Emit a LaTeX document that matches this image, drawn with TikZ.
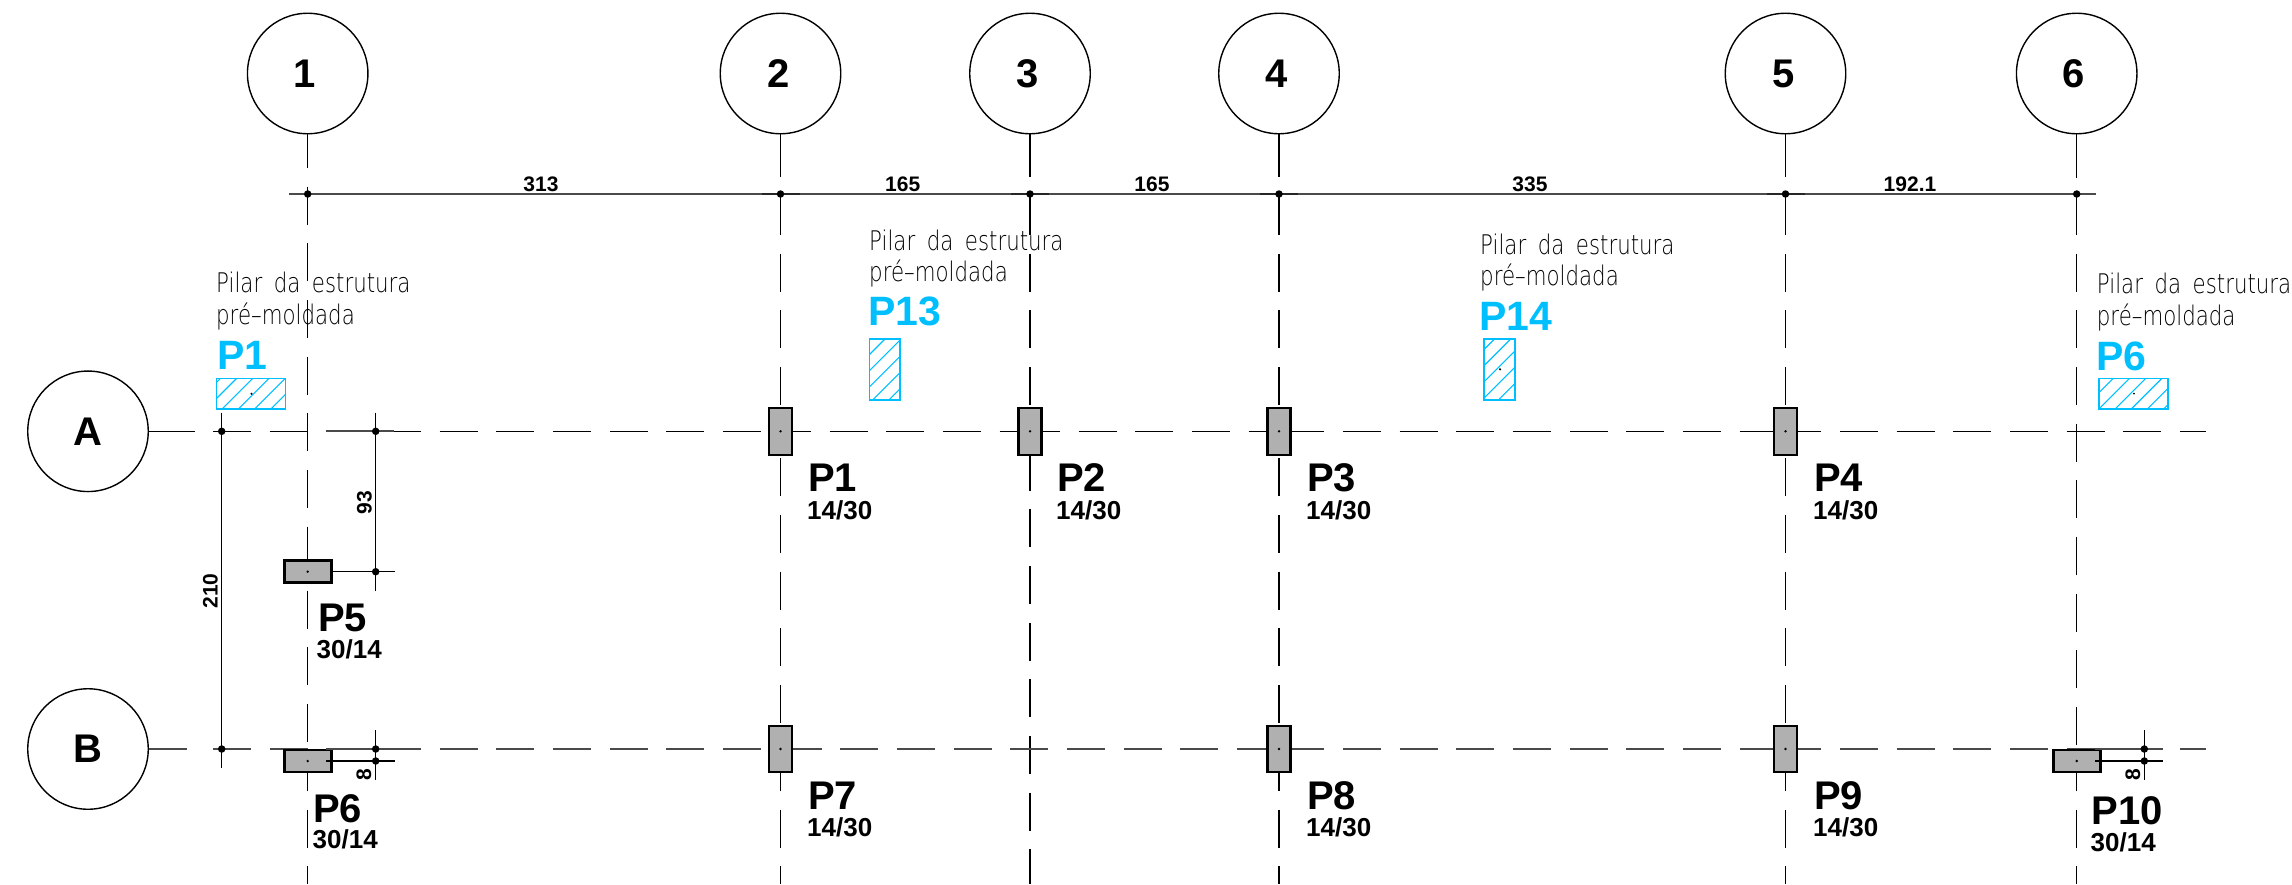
\documentclass[tikz,border=0pt]{standalone}
\usepackage{fontspec}
\setmainfont{Liberation Sans}
\newfontfamily\thinfont[FakeStretch=0.79,WordSpace=1.7]{DejaVu Sans ExtraLight}
\definecolor{cyanp}{HTML}{00BFFF}
\definecolor{gridgray}{HTML}{4A4A4A}
\definecolor{colgray}{HTML}{B0B0B0}
\tikzset{
  axisdash/.style={line width=1.5pt,black,dash pattern=on 38pt off 18.67pt},
  rowadash/.style={line width=1.5pt,black,dash pattern=on 38pt off 18.67pt},
  rowbdash/.style={line width=2pt,gridgray,dash pattern=on 38pt off 18.67pt},
  solidln/.style={line width=1.5pt,black},
  dimln/.style={line width=1.3pt,black},
  dimmain/.style={line width=2pt,gridgray},
  dimtick/.style={line width=2.4pt,black!85},
  gridcircle/.style={circle,draw=black,line width=1.4pt,minimum size=120.5pt,inner sep=0pt,fill=white,font=\fontsize{40}{40}\selectfont\bfseries},
  column/.style={draw=black,fill=colgray,line width=2.6pt},
  cdot/.style={circle,fill=black,inner sep=0pt,minimum size=2.6pt},
  jdot/.style={circle,fill=black,inner sep=0pt,minimum size=7.5pt},
  ptag/.style={anchor=base west,inner sep=0pt,font=\fontsize{40}{40}\selectfont\bfseries},
  ptagblue/.style={anchor=base west,inner sep=0pt,text=cyanp,font=\fontsize{41}{41}\selectfont\bfseries},
  psize/.style={anchor=base west,inner sep=0pt,font=\fontsize{26}{26}\selectfont\bfseries},
  dimtext/.style={anchor=base,inner sep=0pt,font=\fontsize{21}{21}\selectfont\bfseries},
  note/.style={anchor=base west,inner sep=0pt,text=black,font=\thinfont\fontsize{27}{27}\selectfont},
  hatchbox/.style={draw=cyanp,line width=1.6pt},
  hatchln/.style={draw=cyanp,line width=1.1pt},
}
\newcommand{\hatchrect}[5]{%
  \begin{scope}
    \clip (#1,#2) rectangle (#3,#4);
    \foreach \k in {0,...,8}{
      \pgfmathsetmacro{\s}{#1+#2+#5+16.2*\k}
      \draw[hatchln] ({\s-#4},#4) -- ({\s-#2},#2);
    }
  \end{scope}
  \draw[hatchbox] (#1,#2) rectangle (#3,#4);
}
\newcommand{\colwide}[3]{% name, x, y : 30/14
  \draw[column] (#2-23.5,#3-11) rectangle (#2+23.5,#3+11);
  \node[cdot] (#1) at (#2,#3) {};
}
\begin{document}
\begin{tikzpicture}[x=1pt,y=-1pt]
\useasboundingbox (0,0) rectangle (2292,884);

% grid bubbles
\foreach \n/\x/\tx in {1/307.7/305,2/780.5/778.5,3/1030/1027.5,4/1279/1276.5,5/1785.5/1783.5,6/2076.7/2074}{
  \node[gridcircle] (c\n) at (\x,73.5) {};
  \node[inner sep=0pt,font=\fontsize{40}{40}\selectfont\bfseries] (t\n) at (\tx,74) {\n};
}
\node[gridcircle] (rA) at (88,431.3) {\textbf{A}};
\node[gridcircle] (rB) at (88,749) {\textbf{B}};

% vertical axes
\draw[solidln] (c1.south) -- (307.7,168);
\draw[axisdash] (307.7,186.7) -- (307.7,575);
\draw[axisdash] (307.7,590.7) -- (307.7,750);
\draw[axisdash] (307.7,753) -- (307.7,884);
\foreach \n/\x in {2/780.5,4/1279,5/1785.5}{
  \draw[solidln] (c\n.south) -- (\x,177);
  \draw[axisdash] (\x,197) -- (\x,440);
  \draw[axisdash] (\x,458.3) -- (\x,750);
  \draw[axisdash] (\x,753) -- (\x,884);
}
\draw[solidln] (c3.south) -- (1030,177);
\draw[axisdash] (1030,197) -- (1030,440);
\draw[axisdash] (1030,452.6) -- (1030,884);
\draw[solidln] (c6.south) -- (2076.7,178);
\draw[axisdash] (2076.7,197) -- (2076.7,750);
\draw[axisdash] (2076.7,753) -- (2076.7,884);

% row A
\draw[solidln] (rA.east) -- (195,431.3);
\draw[rowadash] (213,431.3) -- (768,431.3);
\draw[rowadash] (772.9,431.3) -- (1030,431.3);
\draw[rowadash] (1022,431.3) -- (1279,431.3);
\draw[rowadash] (1286.3,431.3) -- (1778,431.3);
\draw[rowadash] (1783.3,431.3) -- (2206,431.3);
% row B
\draw[rowbdash] (rB.east) -- (195,749);
\draw[rowbdash] (213,749) -- (770,749);
\draw[rowbdash] (783.6,749) -- (1279,749);
\draw[rowbdash] (1286.3,749) -- (1778,749);
\draw[rowbdash] (1783.3,749) -- (2206,749);

% top dimension line
\coordinate (dl) at (289,194);
\coordinate (dr) at (2096,194);
\draw[dimmain] (dl) -- (dr);
\foreach \n/\x in {2/780.5,3/1030,4/1279,5/1785.5}{
  \draw[dimtick] (\x-19,194) -- (\x+19,194);
}
\foreach \n/\x in {1/307.7,2/780.5,3/1030,4/1279,5/1785.5,6/2076.7}{
  \node[jdot] (d\n) at (\x,194) {};
}
\node[dimtext] (v313) at (541,191) {313};
\node[dimtext] (v165a) at (902.7,191) {165};
\node[dimtext] (v165b) at (1152,191) {165};
\node[dimtext] (v335) at (1530,191) {335};
\node[dimtext] (v192) at (1910,191) {192.1};

% dimension 210
\coordinate (a1) at (221.7,412.7);
\coordinate (a2) at (221.7,768);
\draw[dimln] (a1) -- (a2);
\node[jdot] (ja1) at (221.7,431.3) {};
\node[jdot] (ja2) at (221.7,749) {};
\node[dimtext,rotate=90] (v210) at (217.5,591) {210};

% dimension 93
\coordinate (b1) at (375.7,412.7);
\coordinate (b2) at (375.7,590.7);
\draw[dimln] (b1) -- (b2);
\coordinate (b3) at (326,571.7);
\coordinate (b4) at (395,571.7);
\draw[dimln] (b3) -- (b4);
\draw[dimmain] (326,431.3) -- (394,431.3);
\node[jdot] (jb1) at (375.7,431.3) {};
\node[jdot] (jb2) at (375.7,571.7) {};
\node[dimtext,rotate=90] (v93) at (371.5,502.7) {93};

% columns
\foreach \n/\x in {1/780.5,2/1030,3/1279,4/1785.5}{
  \draw[column] (\x-11.5,407.8) rectangle (\x+11.5,454.8);
  \node[cdot] (pa\n) at (\x,431.3) {};
}
\foreach \n/\x in {7/780.5,8/1279,9/1785.5}{
  \draw[column] (\x-11.5,726) rectangle (\x+11.5,772);
  \node[cdot] (pb\n) at (\x,749) {};
}
\colwide{p5}{307.7}{571.7}
\colwide{p6}{307.7}{761}
\colwide{p10}{2076.7}{761}

% small dimension at P6
\draw[dimmain] (326,749) -- (394,749);
\draw[dimln] (375.7,730) -- (375.7,780);
\draw[dimln] (326,761) -- (395,761);
\node[jdot] (jc1) at (375.7,749) {};
\node[jdot] (jc2) at (375.7,761) {};
\node[dimtext,rotate=90] (v8a) at (371,775) {8};
% small dimension at P10
\draw[dimmain] (2095,749) -- (2163,749);
\draw[dimln] (2144.3,730) -- (2144.3,780);
\draw[dimln] (2095,761) -- (2163,761);
\node[jdot] (je1) at (2144.3,749) {};
\node[jdot] (je2) at (2144.3,761) {};
\node[dimtext,rotate=90] (v8b) at (2140,775) {8};

% black labels
\foreach \n/\t/\x/\y/\sz/\xs/\ys in {
  l1/P1/808/491.5/{14/30}/807/519,
  l2/P2/1057/491.5/{14/30}/1056/519,
  l3/P3/1307/491.5/{14/30}/1306/519,
  l4/P4/1814/491.5/{14/30}/1813/519,
  l5/P5/318/631/{30/14}/316.5/658,
  l6/P6/313/822/{30/14}/312.5/848,
  l7/P7/808/809/{14/30}/807/836.7,
  l8/P8/1307/809/{14/30}/1306/836.7,
  l9/P9/1814/809/{14/30}/1813/836.7,
  l10/P10/2091.5/824.5/{30/14}/2090.5/851.7}{
  \node[ptag] (\n) at (\x,\y) {\t};
  \node[psize] (s\n) at (\xs,\ys) {\sz};
}

% precast columns
\foreach \n/\x/\ya/\yb/\bx/\by/\t in {
  a/216/292.7/324/217/369/P1,
  b/869/250/281.7/868/325.7/P13,
  c/1480/254.3/285.7/1479/330.7/P14,
  d/2096.7/293.3/325/2096/370/P6}{
  \node[note] (na\n) at (\x,\ya) {Pilar da estrutura};
  \node[note] (nb\n) at (\x,\yb) {pré–moldada};
  \node[ptagblue] (nc\n) at (\bx,\by) {\t};
}
\hatchrect{216.3}{378.3}{285.3}{409}{4.2}
\hatchrect{869.3}{339}{900}{400}{15.7}
\hatchrect{1484}{339}{1515}{400}{10.5}
\hatchrect{2099}{378.3}{2167.7}{409}{14.3}
\node[cdot,minimum size=2.4pt] (h1) at (251.5,393.7) {};
\node[cdot,minimum size=2.4pt] (h3) at (1500,369.3) {};
\node[cdot,minimum size=2pt] (h4) at (2134,393.7) {};
\end{tikzpicture}
\end{document}
